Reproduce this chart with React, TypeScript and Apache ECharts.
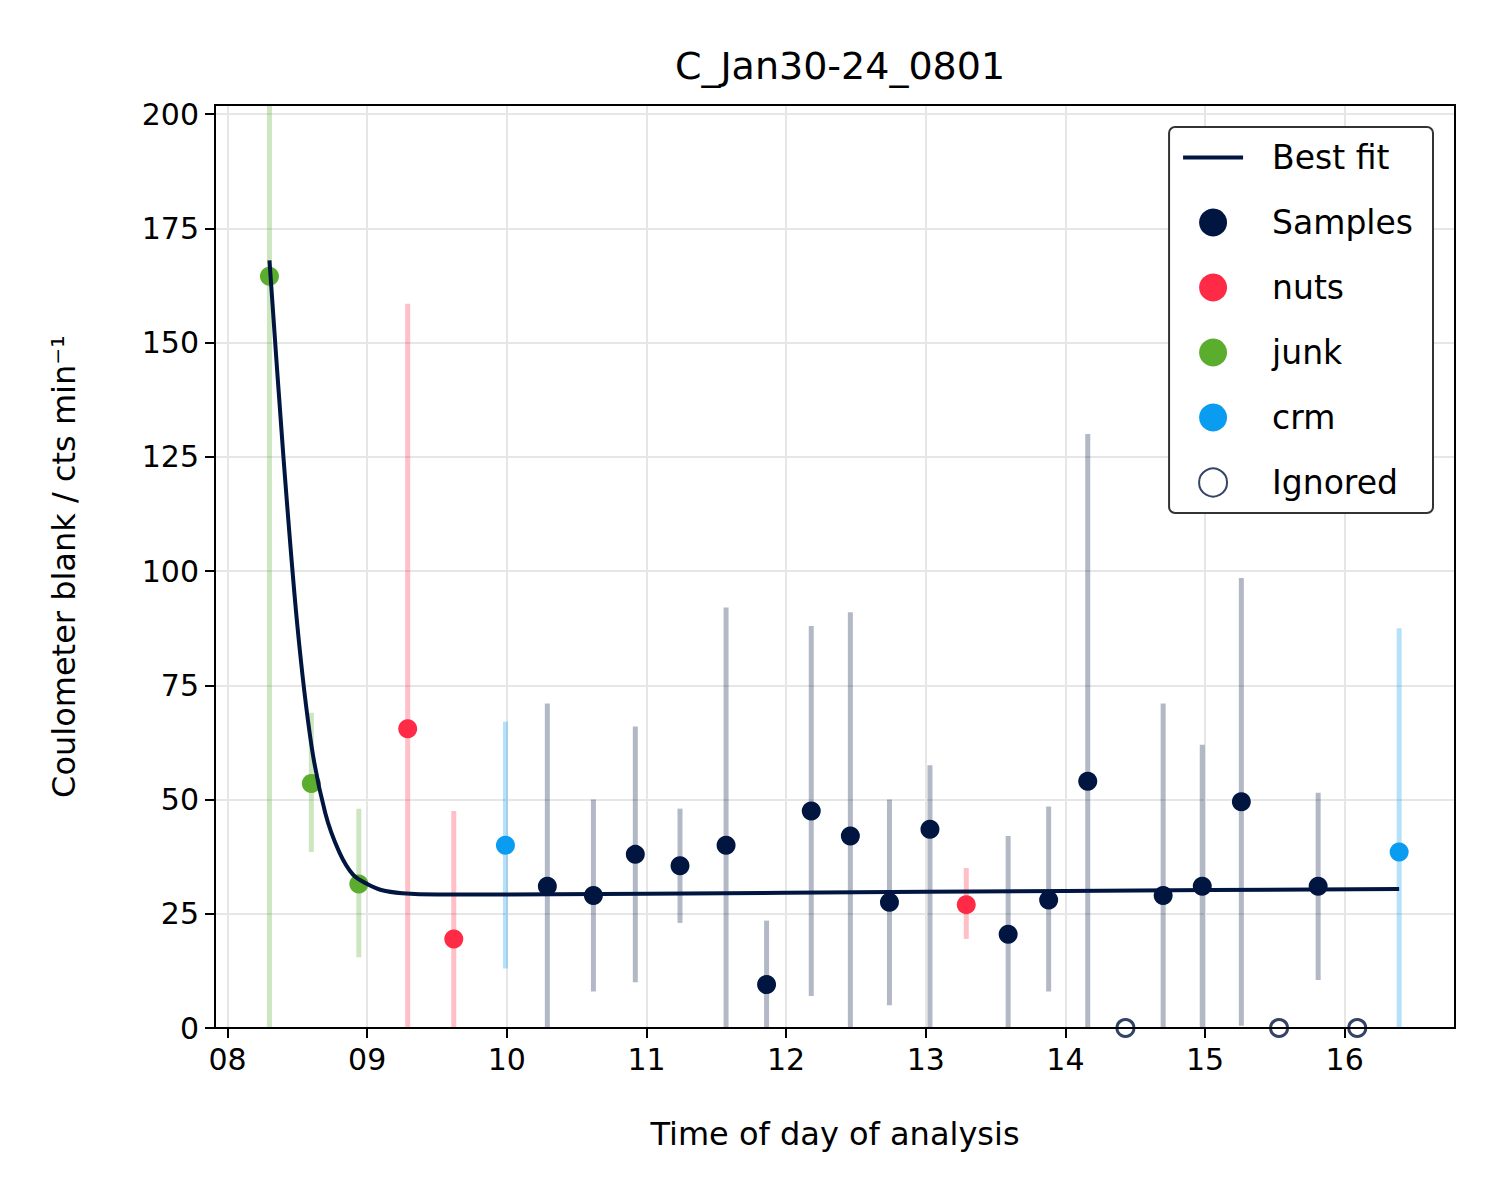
import { useEffect, useRef } from "react";
import * as echarts from "echarts";

// [hour, value, errLow, errHigh]
const samples = [
  [10.29, 31, 0, 71], [10.62, 29, 8, 50], [10.92, 38, 10, 66], [11.24, 35.5, 23, 48],
  [11.57, 40, 0, 92], [11.86, 9.5, 0, 23.5], [12.18, 47.5, 7, 88], [12.46, 42, 0, 91],
  [12.74, 27.5, 5, 50], [13.03, 43.5, 0, 57.5], [13.59, 20.5, 0, 42], [13.88, 28, 8, 48.5],
  [14.16, 54, 0, 130], [14.7, 29, 0, 71], [14.98, 31, 0, 62], [15.26, 49.5, 0.5, 98.5],
  [15.81, 31, 10.5, 51.5],
];
const nuts = [[9.29, 65.5, 0, 158.5], [9.62, 19.5, 0, 47.5], [13.29, 27, 19.5, 35]];
const junk = [[8.3, 164.5, 0, 260], [8.6, 53.5, 38.5, 69], [8.94, 31.5, 15.5, 48]];
const crm = [[9.99, 40, 13, 67], [16.39, 38.5, 0, 87.5]];
const ignored = [[14.43, 0], [15.53, 0], [16.09, 0]];
const bestFit = [
  [8.3, 168], [8.4, 125], [8.5, 88], [8.6, 62], [8.7, 47], [8.8, 38.5], [8.9, 33.5],
  [9.0, 31.5], [9.1, 30.2], [9.25, 29.5], [9.5, 29.2], [10, 29.2], [12, 29.6], [14, 30.0],
  [16.39, 30.4],
];
const xTicks = [8, 9, 10, 11, 12, 13, 14, 15, 16];

const groups = [
  { name: "Samples", data: samples, dot: "#001540", bar: "rgba(0,21,64,0.3)" },
  { name: "nuts", data: nuts, dot: "#ff2a46", bar: "rgba(255,42,70,0.3)" },
  { name: "junk", data: junk, dot: "#5aad2d", bar: "rgba(90,173,45,0.3)" },
  { name: "crm", data: crm, dot: "#0a9cf0", bar: "rgba(10,156,240,0.3)" },
];

const font = "DejaVu Sans";

export default function App() {
  const ref = useRef<HTMLDivElement | null>(null);

  useEffect(() => {
    if (!ref.current) return;
    const chart = echarts.init(ref.current, undefined, { renderer: "svg" });

    const errSeries = groups.map((g) => ({
      type: "custom",
      silent: true,
      clip: true,
      z: 1,
      data: g.data.map((d) => [d[0], d[2], d[3]]),
      renderItem: (_p: any, api: any) => {
        const a = api.coord([api.value(0), api.value(1)]);
        const b = api.coord([api.value(0), api.value(2)]);
        return {
          type: "line",
          shape: { x1: a[0], y1: a[1], x2: b[0], y2: b[1] },
          style: { stroke: g.bar, lineWidth: 5 },
        };
      },
    }));

    const dotSeries = groups.map((g) => ({
      name: g.name,
      type: "scatter",
      symbolSize: 19,
      z: 3,
      data: g.data.map((d) => [d[0], d[1]]),
      itemStyle: { color: g.dot, opacity: 1 },
    }));

    chart.setOption({
      animation: false,
      textStyle: { fontFamily: font },
      title: {
        text: "C_Jan30-24_0801",
        left: 835,
        textAlign: "center",
        top: 42,
        textStyle: { fontFamily: font, fontSize: 38, fontWeight: "normal", color: "#000" },
      },
      grid: { left: 215, right: 45, top: 105, bottom: 172 },
      graphic: [
        {
          type: "rect",
          z: 100,
          silent: true,
          shape: { x: 215, y: 105, width: 1240, height: 923 },
          style: { fill: "none", stroke: "#000", lineWidth: 2 },
        },
      ],
      legend: {
        orient: "vertical",
        right: 67,
        top: 127,
        padding: [14, 20, 14, 14],
        itemGap: 32,
        itemWidth: 60,
        itemHeight: 28,
        borderColor: "#333",
        borderWidth: 2,
        borderRadius: 6,
        backgroundColor: "#fff",
        textStyle: { fontFamily: font, fontSize: 33, color: "#000", padding: [0, 0, 0, 24] },
        data: [
          { name: "Best fit", icon: "path://M0 0H60V4H0Z", itemStyle: { color: "#001540" } },
          { name: "Samples", icon: "path://M30,0a10,10 0 1,0 0.01,0Zm-30,-4h60v28h-60z" === "" ? "" : "circle", itemStyle: { color: "#001540" } },
          { name: "nuts", icon: "circle" },
          { name: "junk", icon: "circle" },
          { name: "crm", icon: "circle" },
          { name: "Ignored", icon: "circle" },
        ],
      },
      xAxis: {
        type: "value",
        min: 7.91,
        max: 16.79,
        name: "Time of day of analysis",
        nameLocation: "middle",
        nameGap: 90,
        nameTextStyle: { fontFamily: font, fontSize: 32, color: "#000" },
        axisLine: { lineStyle: { color: "#000", width: 2 } },
        axisTick: { customValues: xTicks, length: 10, lineStyle: { color: "#000", width: 2 } },
        axisLabel: {
          customValues: xTicks,
          fontSize: 30,
          color: "#000",
          margin: 16,
          formatter: (v: number) => String(Math.round(v)).padStart(2, "0"),
        },
        splitLine: { show: false },
      },
      yAxis: {
        type: "value",
        min: 0,
        max: 202,
        interval: 25,
        name: "Coulometer blank / cts min⁻¹",
        nameLocation: "middle",
        nameGap: 135,
        nameTextStyle: { fontFamily: font, fontSize: 32, color: "#000" },
        axisLine: { show: true, lineStyle: { color: "#000", width: 2 } },
        axisTick: { show: true, length: 10, lineStyle: { color: "#000", width: 2 } },
        axisLabel: { fontSize: 30, color: "#000", margin: 16 },
        splitLine: { lineStyle: { color: "#e6e6e6", width: 2 } },
      },
      series: [
        ...errSeries,
        {
          name: "Best fit",
          type: "line",
          data: bestFit,
          smooth: 0.3,
          showSymbol: false,
          symbol: "none",
          z: 4,
          lineStyle: { color: "#001540", width: 4 },
          itemStyle: { color: "#001540" },
          markLine: {
            silent: true,
            symbol: "none",
            label: { show: false },
            lineStyle: { color: "#e6e6e6", width: 2, type: "solid" },
            data: xTicks.map((t) => ({ xAxis: t })),
            z: 0,
          },
        },
        ...dotSeries,
        {
          name: "Ignored",
          type: "scatter",
          symbolSize: 17,
          z: 3,
          data: ignored,
          itemStyle: { color: "#fff", borderColor: "#001540", borderWidth: 3 },
        },
      ],
    });

    return () => chart.dispose();
  }, []);

  return <div ref={ref} style={{ width: 1500, height: 1200, margin: -8 }} />;
}
